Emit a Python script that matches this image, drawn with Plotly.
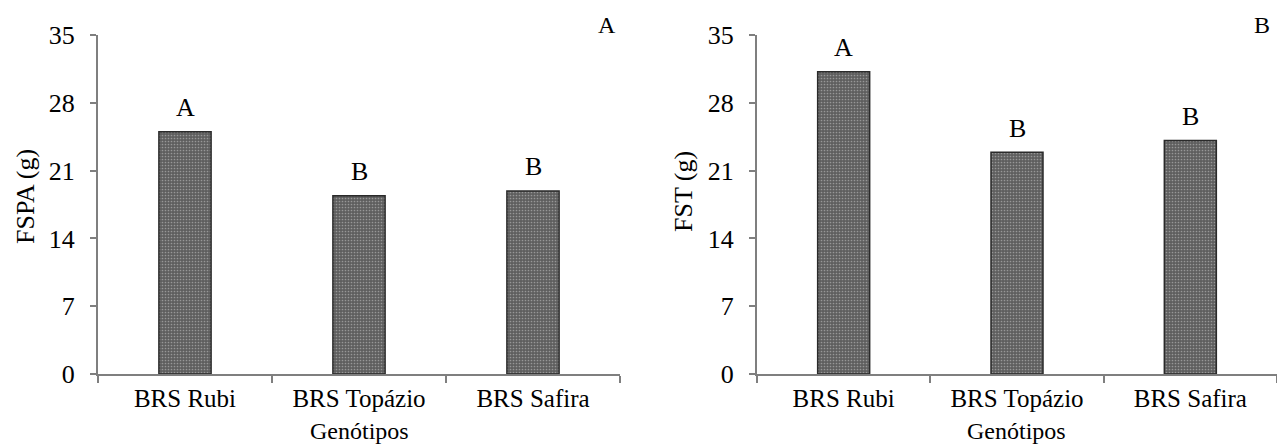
import plotly.graph_objects as go

genotipos = ["BRS Rubi", "BRS Topázio", "BRS Safira"]
fspa = [25.0, 18.4, 18.9]
fst = [31.2, 22.9, 24.1]
letras_fspa = ["A", "B", "B"]
letras_fst = ["A", "B", "B"]
y_ticks = [0, 7, 14, 21, 28, 35]

W, H = 1277, 446
FONT = "'Liberation Serif', 'Times New Roman', Times, 'DejaVu Serif', serif"
AX = "#7f7f7f"
FS = 26

fig = go.Figure()

bar_style = dict(
    width=0.3,
    marker=dict(
        color="#5e5e5e",
        line=dict(color="#2a2a2a", width=1.5),
        pattern=dict(shape=".", fgcolor="#d0d0d0", bgcolor="#5e5e5e", size=3, solidity=0.25),
    ),
    showlegend=False,
    hoverinfo="skip",
)

fig.add_trace(go.Bar(x=genotipos, y=fspa, xaxis="x", yaxis="y", **bar_style))
fig.add_trace(go.Bar(x=genotipos, y=fst, xaxis="x2", yaxis="y2", **bar_style))

TOP, BOT = 35, 374
ydom = [(H - BOT) / H, (H - TOP) / H]

xcommon = dict(
    type="category", range=[-0.5, 2.5], showline=True, linecolor=AX, linewidth=2,
    ticks="outside", tickson="boundaries", ticklen=7, tickwidth=2, tickcolor=AX,
    tickfont=dict(family=FONT, size=25, color="black"), showgrid=False, zeroline=False,
    ticklabelstandoff=1, automargin=False,
)
ycommon = dict(
    range=[0, 35], tickvals=y_ticks, showline=True, linecolor=AX, linewidth=2,
    ticks="outside", ticklen=6, tickwidth=2, tickcolor=AX,
    tickfont=dict(family=FONT, size=FS, color="black"), showgrid=False, zeroline=False,
    ticklabelstandoff=10, domain=ydom, automargin=False,
)

fig.update_layout(
    width=W, height=H,
    margin=dict(l=0, r=0, t=0, b=0, autoexpand=False),
    paper_bgcolor="white", plot_bgcolor="white",
    font=dict(family=FONT),
    xaxis=dict(domain=[98 / W, 620 / W], anchor="y", **xcommon),
    yaxis=dict(anchor="x", **ycommon),
    xaxis2=dict(domain=[757 / W, 1.0], anchor="y2", **xcommon),
    yaxis2=dict(anchor="x2", **ycommon),
)

ann = []
for xa, ya, vals, lets in [("x", "y", fspa, letras_fspa), ("x2", "y2", fst, letras_fst)]:
    for g, v, l in zip(genotipos, vals, lets):
        ann.append(dict(x=g, y=v, xref=xa, yref=ya, text=l, showarrow=False,
                        yshift=24, yanchor="middle",
                        font=dict(family=FONT, size=FS, color="black")))

for xc, t in [(359, "Genótipos"), (1017, "Genótipos")]:
    ann.append(dict(x=xc / W, y=(H - 431) / H, xref="paper", yref="paper", text=t,
                    showarrow=False, xanchor="center", yanchor="middle", borderpad=0,
                    font=dict(family=FONT, size=24, color="black")))

for xc, yc, t in [(25, 197, "FSPA (g)"), (683, 192, "FST (g)")]:
    ann.append(dict(x=xc / W, y=(H - yc) / H, xref="paper", yref="paper", text=t,
                    showarrow=False, textangle=-90, xanchor="center", yanchor="middle",
                    font=dict(family=FONT, size=FS, color="black")))

for xc, t in [(607, "A"), (1262, "B")]:
    ann.append(dict(x=xc / W, y=(H - 25) / H, xref="paper", yref="paper", text=t,
                    showarrow=False, xanchor="center", yanchor="middle",
                    font=dict(family=FONT, size=24, color="black")))

fig.update_layout(annotations=ann)
fig.write_html("out.html")
